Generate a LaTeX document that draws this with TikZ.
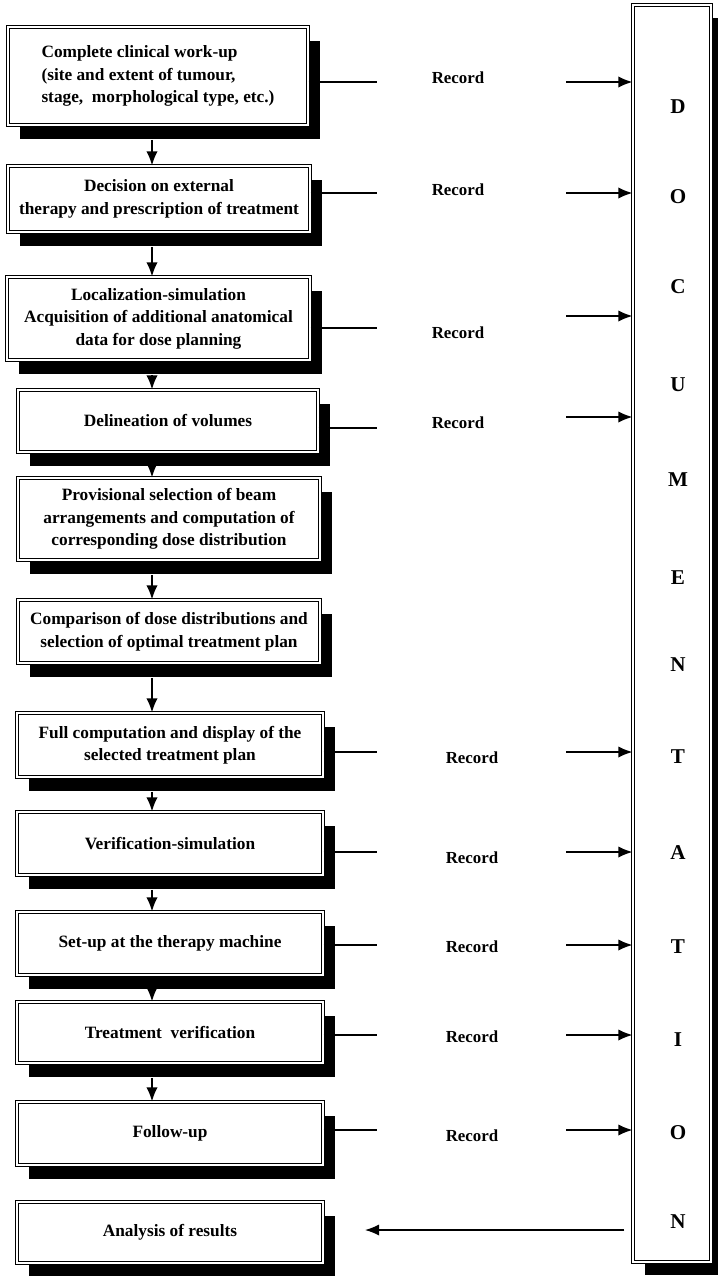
\documentclass[tikz,border=0pt]{standalone}
\usepackage{fontspec}
\setmainfont{Liberation Serif}
\usetikzlibrary{arrows.meta, positioning, shadows, calc}
\tikzset{
    stage/.style={
        rectangle,
        draw=black,
        line width=0.8pt,
        double=white,
        double distance=1.1pt,
        fill=white,
        align=center,
        inner sep=0pt,
        font=\bfseries\fontsize{12.3}{16}\selectfont,
        drop shadow={shadow xshift=0.3cm, shadow yshift=-0.36cm, fill=black, opacity=1},
    },
    docbox/.style={
        rectangle,
        draw=black,
        line width=0.8pt,
        double=white,
        double distance=1.1pt,
        fill=white,
        drop shadow={shadow xshift=0.3cm, shadow yshift=-0.33cm, fill=black, opacity=1},
    },
    record/.style={
        font=\bfseries\fontsize{12}{14}\selectfont,
    },
    letter/.style={
        font=\bfseries\fontsize{15}{16}\selectfont,
    },
}
\begin{document}
\begin{tikzpicture}[x=0.025cm, y=-0.025cm, >={Latex[length=10pt,width=8pt]}, line width=1pt]
      \useasboundingbox (0,0) rectangle (717,1276);
      \node [docbox, minimum width=1.95cm, minimum height=31.425cm] (Doc) at (672,633.5) {};
      \foreach \l/\y [count=\i] in {D/107, O/197, C/287, U/385, M/480, E/578, N/665, T/757, A/853, T/947, I/1040, O/1133, N/1222}
        \node [letter] (Letter\i) at (678,\y) {\l};

      \node [stage, align=left, minimum width=7.5cm, minimum height=2.45cm] (Workup) at (158,76) {Complete clinical work-up\\(site and extent of tumour,\\stage, \ morphological type, etc.)};
      \node [stage, minimum width=7.55cm, minimum height=1.65cm] (Decision) at (159,199) {Decision on external\\therapy and prescription of treatment};
      \node [stage, minimum width=7.575cm, minimum height=2.075cm] (Localization) at (158.5,318.5) {Localization-simulation\\Acquisition of additional anatomical\\data for dose planning};
      \node [stage, minimum width=7.5cm, minimum height=1.55cm] (Delineation) at (168,421) {Delineation of volumes};
      \node [stage, minimum width=7.55cm, minimum height=2.05cm] (Provisional) at (169,519) {Provisional selection of beam\\arrangements and computation of\\corresponding dose distribution};
      \node [stage, minimum width=7.55cm, minimum height=1.575cm] (Comparison) at (169,631.5) {Comparison of dose distributions and\\selection of optimal treatment plan};
      \node [stage, minimum width=7.65cm, minimum height=1.6cm] (FullComp) at (170,745) {Full computation and display of the\\selected treatment plan};
      \node [stage, minimum width=7.65cm, minimum height=1.575cm] (VerifSim) at (170,843.5) {Verification-simulation};
      \node [stage, minimum width=7.65cm, minimum height=1.575cm] (Setup) at (170,943.5) {Set-up at the therapy machine};
      \node [stage, minimum width=7.65cm, minimum height=1.525cm] (TreatVerif) at (170,1032.5) {Treatment \ verification};
      \node [stage, minimum width=7.65cm, minimum height=1.575cm] (FollowUp) at (170,1133.5) {Follow-up};
      \node [stage, minimum width=7.65cm, minimum height=1.525cm] (Analysis) at (170,1232.5) {Analysis of results};

      \coordinate (Down) at (152,0);
      \foreach \a/\b in {Workup/Decision, Decision/Localization, Localization/Delineation, Delineation/Provisional, Provisional/Comparison, Comparison/FullComp, FullComp/VerifSim, VerifSim/Setup, Setup/TreatVerif, TreatVerif/FollowUp}
        \draw [->, shorten <=0.36cm] (\a.south -| Down) -- (\b.north -| Down);

      \foreach \s/\ly/\rx/\ry/\ay in {Workup/82/458/78/82, Decision/193/458/190/193, Localization/328/458/333/316, Delineation/428/458/423/417, FullComp/752/472/758/752, VerifSim/852/472/858/852, Setup/945/472/947/945, TreatVerif/1035/472/1037/1035, FollowUp/1130/472/1136/1130} {
        \coordinate (\s-out) at (377,\ly);
        \coordinate (\s-in) at (566,\ay);
        \node [record] (\s-rec) at (\rx,\ry) {Record};
        \draw (\s.east |- \s-out) -- (\s-out);
        \draw [->] (\s-in) -- (\s-in -| Doc.west);
      }

      \coordinate (Back) at (365,1230);
      \draw [->, shorten <=0.2cm] (Doc.west |- Back) -- (Back);
    \end{tikzpicture}
\end{document}
